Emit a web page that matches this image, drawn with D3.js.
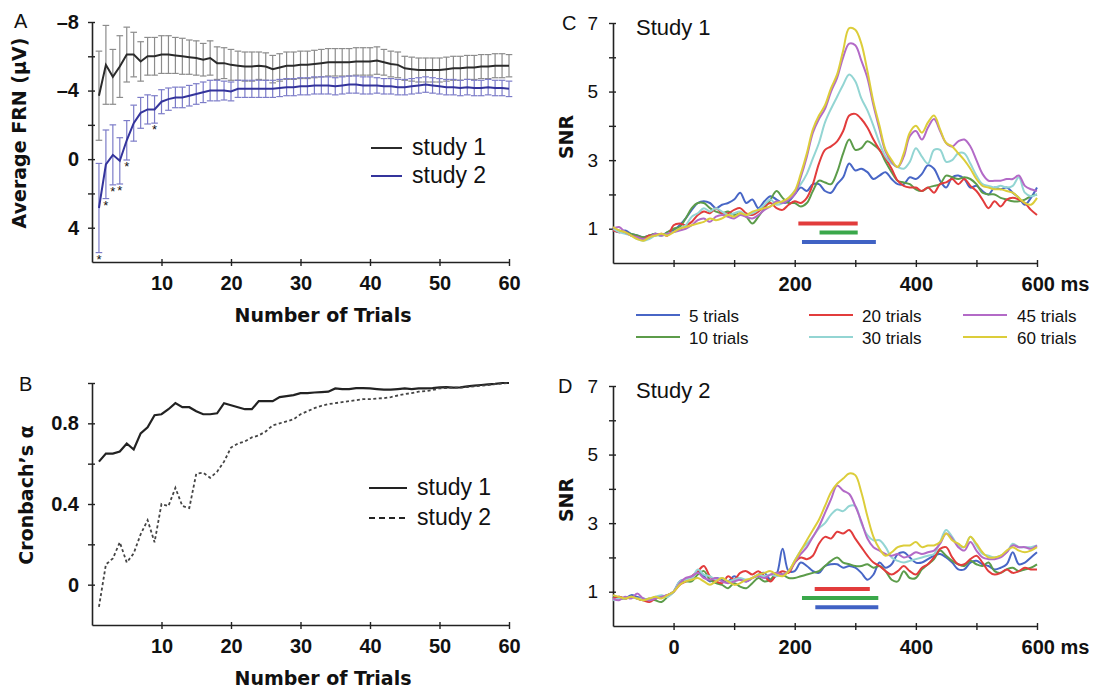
<!DOCTYPE html>
<html>
<head>
<meta charset="utf-8">
<script src="https://cdn.jsdelivr.net/npm/d3@7"></script>
<style>
  body { margin: 0; background: #fff; }
  svg text { font-family: "Liberation Sans", Arial, sans-serif; fill: #111; }
  .title { font-family: "DejaVu Sans", Verdana, sans-serif; font-weight: bold; font-size: 19px; }
  .panel { font-size: 20px; }
</style>
</head>
<body>
<svg id="fig" width="1101" height="691"></svg>
<script>

/****************************** Data **********************************/

var trials = d3.range(1, 61);

// panel A : average FRN (uV) per number of trials, with error bars
var frnStudy1 = [-3.7, -5.5, -4.8, -5.4, -6.1, -6.1, -5.7, -6.0, -6.0, -6.1,
  -6.1, -6.05, -6.0, -5.95, -5.9, -5.8, -5.9, -5.6, -5.6, -5.5,
  -5.45, -5.4, -5.4, -5.45, -5.4, -5.25, -5.35, -5.45, -5.45, -5.5,
  -5.5, -5.55, -5.6, -5.65, -5.65, -5.65, -5.65, -5.7, -5.7, -5.7,
  -5.75, -5.65, -5.55, -5.5, -5.3, -5.25, -5.2, -5.2, -5.2, -5.2,
  -5.25, -5.3, -5.3, -5.35, -5.35, -5.4, -5.4, -5.45, -5.45, -5.45];
var frnErr1 = [2.6, 2.3, 1.6, 1.8, 1.6, 1.3, 1.15, 1.1, 1.1, 1.1,
  1.1, 1.05, 1.05, 1.0, 1.0, 0.95, 1.0, 0.95, 0.9, 0.9,
  0.85, 0.85, 0.85, 0.8, 0.8, 0.8, 0.8, 0.8, 0.8, 0.8,
  0.8, 0.8, 0.8, 0.8, 0.8, 0.8, 0.8, 0.8, 0.8, 0.8,
  0.8, 0.75, 0.75, 0.75, 0.7, 0.7, 0.7, 0.7, 0.7, 0.7,
  0.7, 0.7, 0.7, 0.7, 0.7, 0.7, 0.7, 0.7, 0.7, 0.65];
var frnStudy2 = [2.85, 0.3, -0.25, 0.1, -1.1, -2.1, -2.7, -2.9, -2.9, -3.35,
  -3.5, -3.6, -3.6, -3.7, -3.8, -3.9, -4.0, -4.0, -4.0, -3.95,
  -4.1, -4.1, -4.1, -4.1, -4.1, -4.1, -4.15, -4.2, -4.2, -4.25,
  -4.25, -4.3, -4.3, -4.3, -4.25, -4.3, -4.35, -4.35, -4.3, -4.3,
  -4.3, -4.25, -4.25, -4.2, -4.2, -4.25, -4.3, -4.35, -4.3, -4.25,
  -4.2, -4.2, -4.15, -4.2, -4.15, -4.15, -4.2, -4.15, -4.15, -4.1];
var frnErr2 = [2.6, 2.0, 1.75, 1.35, 1.15, 1.05, 0.9, 0.85, 0.8, 0.7,
  0.65, 0.6, 0.6, 0.6, 0.6, 0.6, 0.6, 0.6, 0.55, 0.55,
  0.5, 0.5, 0.5, 0.5, 0.5, 0.5, 0.5, 0.5, 0.5, 0.5,
  0.5, 0.5, 0.5, 0.5, 0.5, 0.5, 0.5, 0.5, 0.5, 0.5,
  0.45, 0.45, 0.45, 0.45, 0.45, 0.45, 0.45, 0.45, 0.45, 0.45,
  0.45, 0.45, 0.45, 0.45, 0.45, 0.45, 0.45, 0.45, 0.45, 0.45];
var sigTrials = [1, 2, 3, 4, 5, 9];

// panel B : Cronbach's alpha
var alphaStudy1 = [0.61, 0.65, 0.65, 0.66, 0.70, 0.67, 0.75, 0.78, 0.84, 0.845,
  0.87, 0.90, 0.88, 0.88, 0.86, 0.845, 0.845, 0.85, 0.90, 0.89,
  0.88, 0.87, 0.87, 0.91, 0.91, 0.91, 0.93, 0.935, 0.94, 0.95,
  0.95, 0.953, 0.955, 0.957, 0.973, 0.97, 0.97, 0.975, 0.975, 0.973,
  0.97, 0.967, 0.967, 0.97, 0.973, 0.97, 0.973, 0.973, 0.975, 0.978,
  0.98, 0.977, 0.978, 0.983, 0.987, 0.99, 0.993, 0.996, 1.0, 1.0];
var alphaStudy2 = [-0.11, 0.10, 0.13, 0.21, 0.11, 0.155, 0.25, 0.32, 0.21, 0.40,
  0.39, 0.48, 0.39, 0.38, 0.55, 0.555, 0.53, 0.56, 0.61, 0.68,
  0.70, 0.71, 0.73, 0.74, 0.76, 0.79, 0.80, 0.81, 0.82, 0.845,
  0.86, 0.875, 0.887, 0.895, 0.90, 0.905, 0.91, 0.915, 0.92, 0.92,
  0.923, 0.925, 0.93, 0.938, 0.945, 0.95, 0.957, 0.96, 0.965, 0.973,
  0.975, 0.977, 0.977, 0.98, 0.983, 0.986, 0.99, 0.994, 0.997, 1.0];

// panels C/D : SNR, -100..600 ms every 10 ms
var times = d3.range(-100, 601, 10);

var s1Trials5 = [0.95, 0.9, 0.95, 0.85, 0.8, 0.75, 0.8, 0.85, 0.8, 0.9,
  0.95, 1.1, 1.3, 1.55, 1.75, 1.8, 1.75, 1.6, 1.7, 1.75, 1.85, 2.05, 1.75, 1.85, 1.6, 1.8, 1.95, 1.85, 1.75, 1.8,
  2.0, 2.2, 2.1, 2.3, 2.3, 2.1, 2.05, 2.3, 2.5, 2.9,
  2.7, 2.75, 2.65, 2.45, 2.55, 2.65, 2.45, 2.3, 2.3, 2.5,
  2.45, 2.6, 2.85, 2.75, 2.4, 2.2, 2.5, 2.55, 2.45, 2.2,
  2.25, 2.1, 2.0, 2.2, 2.15, 2.2, 2.05, 1.9, 1.7, 1.9, 2.2];
var s1Trials10 = [1.0, 0.95, 0.9, 0.85, 0.8, 0.75, 0.8, 0.85, 0.8, 0.9,
  1.0, 1.05, 1.3, 1.6, 1.75, 1.75, 1.6, 1.5, 1.45, 1.5, 1.4, 1.45, 1.35, 1.15, 1.35, 1.6, 1.85, 2.1, 1.9, 1.75,
  1.75, 1.65, 1.75, 2.1, 2.4, 2.35, 2.3, 2.65, 3.2, 3.6,
  3.3, 3.35, 3.55, 3.45, 3.3, 2.95, 2.65, 2.4, 2.35, 2.3,
  2.15, 2.1, 2.2, 2.25, 2.3, 2.55, 2.5, 2.45, 2.5, 2.45,
  2.3, 2.05, 2.0, 2.0, 1.9, 1.85, 1.8, 1.8, 1.85, 1.95, 2.0];
var s1Trials20 = [0.95, 0.9, 0.9, 0.8, 0.75, 0.7, 0.8, 0.8, 0.85, 0.8,
  1.1, 1.15, 1.1, 1.2, 1.4, 1.5, 1.45, 1.6, 1.45, 1.45, 1.55, 1.6, 1.45, 1.4, 1.5, 1.65, 1.75, 1.6, 1.55, 1.7,
  1.8, 1.75, 1.9, 2.3, 2.9, 3.3, 3.4, 3.55, 3.85, 4.3,
  4.35, 4.2, 3.95, 3.6, 3.3, 3.05, 2.75, 2.4, 2.25, 2.2,
  2.2, 2.1, 2.2, 2.05, 2.3, 2.35, 2.45, 2.3, 2.45, 2.25,
  2.1, 1.85, 1.6, 1.8, 1.65, 1.85, 1.9, 1.85, 1.75, 1.55, 1.4];
var s1Trials30 = [1.0, 0.9, 0.85, 0.8, 0.7, 0.65, 0.7, 0.8, 0.8, 0.85,
  0.9, 1.0, 1.1, 1.35, 1.45, 1.6, 1.5, 1.6, 1.5, 1.4, 1.45, 1.5, 1.4, 1.45, 1.55, 1.7, 1.85, 1.7, 1.75, 1.9,
  2.1, 2.3, 2.6, 3.05, 3.5, 4.1, 4.5, 4.85, 5.2, 5.5,
  5.3, 4.8, 4.45, 4.0, 3.5, 3.1, 2.9, 2.8, 2.75, 2.95,
  3.35, 3.1, 2.9, 3.3, 3.3, 2.95, 3.0, 3.2, 3.2, 2.9,
  2.55, 2.3, 2.25, 2.2, 2.25, 2.2, 2.25, 2.5, 2.05, 1.95, 2.0];
var s1Trials45 = [1.0, 1.05, 0.9, 0.8, 0.75, 0.7, 0.75, 0.85, 0.8, 0.85,
  0.9, 0.95, 1.0, 1.1, 1.25, 1.3, 1.2, 1.35, 1.4, 1.35, 1.3, 1.4, 1.35, 1.3, 1.4, 1.55, 1.65, 1.8, 1.75, 1.85,
  2.0, 2.5, 3.1, 3.8, 4.2, 4.5, 5.0, 5.4, 6.0, 6.4,
  6.35, 5.9, 5.4, 4.6, 3.9, 3.25, 2.95, 2.8, 3.1, 3.7,
  3.85, 3.6, 3.95, 4.2, 3.85, 3.5, 3.4, 3.55, 3.6, 3.4,
  3.0, 2.6, 2.4, 2.4, 2.4, 2.45, 2.45, 2.55, 2.25, 2.15, 2.1];
var s1Trials60 = [1.05, 0.95, 0.9, 0.8, 0.7, 0.65, 0.75, 0.8, 0.85, 0.8,
  0.9, 1.0, 1.05, 1.1, 1.15, 1.2, 1.3, 1.25, 1.3, 1.4, 1.35, 1.45, 1.4, 1.5, 1.55, 1.6, 1.65, 1.75, 1.8, 1.9,
  2.1, 2.6, 3.2, 3.9, 4.3, 4.6, 5.1, 5.5, 6.2, 6.85,
  6.8, 6.4, 5.6, 4.7, 4.0, 3.3, 3.0, 2.8, 3.2, 3.8,
  4.0, 3.8, 4.1, 4.3, 3.9, 3.5, 3.4, 3.2, 3.0, 2.75,
  2.45, 2.25, 2.2, 2.15, 2.15, 2.1, 2.05, 1.9, 1.75, 1.7, 1.9];

var s2Trials5 = [0.8, 0.85, 0.8, 0.9, 0.85, 0.8, 0.75, 0.8, 0.85, 0.9,
  1.0, 1.3, 1.35, 1.4, 1.6, 1.45, 1.3, 1.4, 1.35, 1.3, 1.45, 1.35, 1.3, 1.4, 1.5, 1.55, 1.35, 1.5, 2.25, 1.6,
  1.6, 1.85, 1.75, 1.6, 1.55, 1.75, 1.8, 1.8, 1.7, 1.75,
  1.7, 1.55, 1.35, 1.5, 1.85, 1.7, 1.8, 2.1, 2.15, 2.0,
  1.85, 1.85, 1.95, 2.05, 2.1, 2.0, 1.85, 1.65, 1.65, 1.85,
  1.9, 1.8, 1.75, 1.65, 1.7, 1.8, 2.15, 1.8, 1.85, 2.0, 2.15];
var s2Trials10 = [0.85, 0.8, 0.8, 0.85, 0.8, 0.75, 0.8, 0.75, 0.7, 0.85,
  1.0, 1.25, 1.3, 1.3, 1.5, 1.6, 1.35, 1.25, 1.2, 1.1, 1.25, 1.15, 1.1, 1.25, 1.4, 1.3, 1.35, 1.55, 1.5, 1.4,
  1.4, 1.45, 1.5, 1.55, 1.6, 1.75, 1.9, 2.0, 1.85, 1.8,
  1.75, 1.75, 1.8, 1.7, 1.75, 1.6, 1.35, 1.3, 1.6, 1.4,
  1.4, 1.65, 1.8, 1.95, 2.2, 2.05, 1.9, 1.8, 1.75, 1.9,
  1.8, 1.75, 1.85, 1.6, 1.55, 1.65, 1.7, 1.6, 1.65, 1.7, 1.8];
var s2Trials20 = [0.8, 0.85, 0.8, 0.85, 0.8, 0.75, 0.7, 0.8, 0.85, 0.9,
  1.0, 1.2, 1.3, 1.45, 1.6, 1.75, 1.45, 1.3, 1.25, 1.45, 1.35, 1.55, 1.6, 1.5, 1.6, 1.45, 1.3, 1.5, 1.6, 1.55,
  1.85, 2.0, 1.95, 2.05, 2.4, 2.6, 2.55, 2.75, 2.7, 2.8,
  2.55, 2.3, 2.05, 1.85, 1.75, 1.6, 1.5, 1.6, 1.75, 1.6,
  1.5, 1.7, 1.8, 2.0, 2.25, 2.3, 2.0, 1.8, 1.8, 1.95,
  2.05, 1.85, 1.6, 1.5, 1.55, 1.65, 1.55, 1.6, 1.7, 1.65, 1.65];
var s2Trials30 = [0.75, 0.8, 0.8, 0.85, 0.8, 0.8, 0.75, 0.85, 0.9, 0.85,
  1.0, 1.3, 1.35, 1.4, 1.65, 1.5, 1.45, 1.35, 1.4, 1.3, 1.35, 1.4, 1.35, 1.4, 1.5, 1.45, 1.5, 1.45, 1.5, 1.6,
  1.9, 2.2, 2.4, 2.6, 2.85, 3.0, 3.25, 3.4, 3.35, 3.5,
  3.5, 3.0, 2.65, 2.5, 2.5, 2.3, 2.0, 1.9, 1.85, 1.9,
  1.95, 2.0, 2.05, 2.1, 2.45, 2.8, 2.6, 2.35, 2.3, 2.6,
  2.35, 2.1, 2.05, 2.0, 2.05, 2.15, 2.4, 2.3, 2.3, 2.3, 2.35];
var s2Trials45 = [0.8, 0.75, 0.85, 0.8, 0.95, 0.8, 0.75, 0.8, 0.85, 0.9,
  1.0, 1.25, 1.4, 1.45, 1.55, 1.4, 1.35, 1.4, 1.3, 1.25, 1.3, 1.35, 1.3, 1.4, 1.45, 1.4, 1.5, 1.55, 1.5, 1.6,
  1.85, 2.1, 2.3, 2.6, 2.9, 3.3, 3.7, 4.1, 3.95, 3.85,
  3.5, 3.05, 2.55, 2.3, 2.2, 2.1, 2.05, 2.1, 2.0, 2.05,
  2.15, 2.1, 2.15, 2.2, 2.4, 2.7, 2.55, 2.3, 2.2, 2.45,
  2.2, 2.0, 1.95, 1.95, 2.0, 2.15, 2.35, 2.3, 2.3, 2.25, 2.35];
var s2Trials60 = [0.9, 0.85, 0.8, 0.85, 0.8, 0.75, 0.8, 0.85, 0.8, 0.9,
  1.0, 1.2, 1.3, 1.35, 1.4, 1.3, 1.2, 1.3, 1.4, 1.3, 1.2, 1.25, 1.35, 1.4, 1.5, 1.55, 1.6, 1.5, 1.45, 1.6,
  1.9, 2.2, 2.5, 2.8, 3.1, 3.5, 3.9, 4.15, 4.3, 4.45,
  4.4, 3.9, 3.2, 2.6, 2.25, 2.05, 2.15, 2.3, 2.35, 2.35,
  2.45, 2.3, 2.35, 2.35, 2.45, 2.7, 2.5, 2.4, 2.3, 2.6,
  2.4, 2.15, 2.0, 2.0, 2.05, 2.2, 2.3, 2.2, 2.15, 2.2, 2.3];

var trialLabels = ["5 trials", "10 trials", "20 trials", "30 trials", "45 trials", "60 trials"];
var snrColors = ["#4866c6", "#5c9c4a", "#e23c3c", "#93d5d3", "#b36ac7", "#dccd3a"];

// significant windows (ms) drawn under the curves: [start, end, level]
var sigStudy1 = [[206, 304, 1.15], [241, 304, 0.89], [212, 334, 0.61]];
var sigStudy2 = [[233, 324, 1.08], [212, 338, 0.82], [234, 338, 0.55]];
var sigColors = ["#e23c3c", "#3aa84a", "#4062c4"];

/****************************** End Data **********************************/

var svg = d3.select("#fig");
svg.append("rect").attr("width", 1101).attr("height", 691).attr("fill", "#fff");

function styleAxis(g, side, labelSize, bold) {
  g.select(".domain").attr("stroke", "#222").attr("stroke-width", 1.6);
  g.selectAll(".tick line").attr("stroke", "#222").attr("stroke-width", 1.4);
  if (side == "left") g.selectAll(".tick line").attr("x1", 3);
  else g.selectAll(".tick line").attr("y1", -3);
  g.selectAll(".tick text")
    .attr("font-family", "Liberation Sans, Arial, sans-serif")
    .attr("font-size", labelSize)
    .attr("font-weight", bold ? "bold" : "normal")
    .attr("fill", "#111");
}

/****************************** Panel A **********************************/

var xA = d3.scaleLinear().domain([0, 60]).range([92, 509]);
var yA = d3.scaleLinear().domain([-8, 6]).range([22, 262]);

var gA = svg.append("g");

gA.append("g")
  .attr("transform", "translate(92,0)")
  .call(d3.axisLeft(yA).tickValues(d3.range(-8, 6, 2)).tickSizeInner(4).tickSizeOuter(0).tickPadding(9)
    .tickFormat(function(d){ return d % 4 == 0 ? (d < 0 ? "\u2013" + (-d) : d) : ""; }))
  .call(styleAxis, "left", 20, true);

gA.append("g")
  .attr("transform", "translate(0,262)")
  .call(d3.axisBottom(xA).tickValues(d3.range(10, 61, 10)).tickSizeInner(4).tickSizeOuter(0).tickPadding(10))
  .call(styleAxis, "bottom", 20, true);

function errorBars(g, means, errs, color) {
  var bars = g.append("g").attr("stroke", color).attr("stroke-width", 1.2).attr("fill", "none");
  trials.forEach(function(t, i){
    var x = xA(t), y0 = yA(means[i] - errs[i]), y1 = yA(means[i] + errs[i]);
    bars.append("line").attr("x1", x).attr("x2", x).attr("y1", y0).attr("y2", y1);
    bars.append("line").attr("x1", x - 3.3).attr("x2", x + 3.3).attr("y1", y0).attr("y2", y0);
    bars.append("line").attr("x1", x - 3.3).attr("x2", x + 3.3).attr("y1", y1).attr("y2", y1);
  });
}
errorBars(gA, frnStudy1, frnErr1, "#8c8c8c");
errorBars(gA, frnStudy2, frnErr2, "#7c7cc8");

var lineA = d3.line().x(function(d){ return xA(d[0]); }).y(function(d){ return yA(d[1]); });
gA.append("path").datum(d3.zip(trials, frnStudy1)).attr("d", lineA)
  .attr("fill", "none").attr("stroke", "#2b2b2b").attr("stroke-width", 2);
gA.append("path").datum(d3.zip(trials, frnStudy2)).attr("d", lineA)
  .attr("fill", "none").attr("stroke", "#34349c").attr("stroke-width", 2);

gA.selectAll(".star").data(sigTrials).enter().append("text")
  .attr("x", function(t){ return xA(t); })
  .attr("y", function(t){ return yA(frnStudy2[t-1] + frnErr2[t-1]) + 11; })
  .attr("text-anchor", "middle").attr("font-size", 13).attr("fill", "#4646b0")
  .text("*");

gA.append("text").attr("class", "panel").attr("x", 14).attr("y", 28).text("A");
gA.append("text").attr("class", "title").attr("x", 323).attr("y", 322).attr("text-anchor", "middle").text("Number of Trials");
gA.append("text").attr("class", "title").attr("text-anchor", "middle").attr("font-size", 20)
  .attr("transform", "translate(26,133) rotate(-90)").text("Average FRN (\u03bcV)");

var legA = [["study 1", "#2b2b2b"], ["study 2", "#34349c"]];
legA.forEach(function(d, i){
  gA.append("line").attr("x1", 371).attr("x2", 402).attr("y1", 148 + i*28).attr("y2", 148 + i*28)
    .attr("stroke", d[1]).attr("stroke-width", 2);
  gA.append("text").attr("x", 412).attr("y", 155 + i*28).attr("font-size", 23).text(d[0]);
});

/****************************** Panel B **********************************/

var yB = d3.scaleLinear().domain([-0.2, 1.0]).range([625, 383]);
var gB = svg.append("g");

gB.append("g")
  .attr("transform", "translate(92,0)")
  .call(d3.axisLeft(yB).tickValues([0, 0.2, 0.4, 0.6, 0.8, 1.0]).tickSizeInner(4).tickSizeOuter(0).tickPadding(9)
    .tickFormat(function(d){ return d == 0 ? "0" : (Math.abs(d - 0.4) < 1e-6 || Math.abs(d - 0.8) < 1e-6 ? d3.format(".1f")(d) : ""); }))
  .call(styleAxis, "left", 20, true);

gB.append("g")
  .attr("transform", "translate(0,625)")
  .call(d3.axisBottom(xA).tickValues(d3.range(10, 61, 10)).tickSizeInner(4).tickSizeOuter(0).tickPadding(10))
  .call(styleAxis, "bottom", 20, true);

var lineB = d3.line().x(function(d){ return xA(d[0]); }).y(function(d){ return yB(d[1]); });
gB.append("path").datum(d3.zip(trials, alphaStudy1)).attr("d", lineB)
  .attr("fill", "none").attr("stroke", "#222").attr("stroke-width", 2.2);
gB.append("path").datum(d3.zip(trials, alphaStudy2)).attr("d", lineB)
  .attr("fill", "none").attr("stroke", "#444").attr("stroke-width", 1.8).attr("stroke-dasharray", "3,2.5");

gB.append("text").attr("class", "panel").attr("x", 19).attr("y", 391).text("B");
gB.append("text").attr("class", "title").attr("x", 323).attr("y", 685).attr("text-anchor", "middle").text("Number of Trials");
gB.append("text").attr("class", "title").attr("text-anchor", "middle").attr("font-size", 21)
  .attr("transform", "translate(33,495) rotate(-90)").text("Cronbach\u2019s \u03b1");

[["study 1", null], ["study 2", "6,4"]].forEach(function(d, i){
  gB.append("line").attr("x1", 369).attr("x2", 407).attr("y1", 488 + i*30).attr("y2", 488 + i*30)
    .attr("stroke", "#222").attr("stroke-width", 2).attr("stroke-dasharray", d[1]);
  gB.append("text").attr("x", 417).attr("y", 495 + i*30).attr("font-size", 23).text(d[0]);
});

/****************************** Panels C & D **********************************/

var xC = d3.scaleLinear().domain([-100, 600]).range([613, 1037]);

function snrPanel(top, series, sig, letter, letterX, title, showZero) {
  var y = d3.scaleLinear().domain([0, 7]).range([top + 240, top]);
  var g = svg.append("g");

  g.append("g")
    .attr("transform", "translate(613,0)")
    .call(d3.axisLeft(y).tickValues(d3.range(1, 8)).tickSizeInner(4).tickSizeOuter(0).tickPadding(11)
      .tickFormat(function(d){ return d % 2 == 1 ? d : ""; }))
    .call(styleAxis, "left", 19, false);

  var xg = g.append("g")
    .attr("transform", "translate(0," + (top + 240) + ")")
    .call(d3.axisBottom(xC).tickValues(d3.range(0, 601, 100)).tickSizeInner(4).tickSizeOuter(0).tickPadding(10)
      .tickFormat(function(d){
        if (d == 600) return "600 ms";
        if (d == 200 || d == 400 || (d == 0 && showZero)) return d;
        return "";
      }))
    .call(styleAxis, "bottom", 20, true);
  xg.selectAll(".tick text").filter(function(d){ return d == 600; }).attr("dx", 18);

  var line = d3.line().curve(d3.curveCatmullRom)
    .x(function(d){ return xC(d[0]); }).y(function(d){ return y(d[1]); });
  series.forEach(function(s, i){
    g.append("path").datum(d3.zip(times, s)).attr("d", line)
      .attr("fill", "none").attr("stroke", snrColors[i]).attr("stroke-width", 2)
      .attr("stroke-linejoin", "round");
  });

  sig.forEach(function(b, i){
    g.append("line").attr("x1", xC(b[0])).attr("x2", xC(b[1])).attr("y1", y(b[2])).attr("y2", y(b[2]))
      .attr("stroke", sigColors[i]).attr("stroke-width", 4);
  });

  g.append("text").attr("class", "panel").attr("x", letterX).attr("y", top + 7).text(letter);
  g.append("text").attr("x", 636).attr("y", top + 12).attr("font-size", 22).text(title);
  g.append("text").attr("class", "title").attr("text-anchor", "middle")
    .attr("transform", "translate(573," + (top + 114) + ") rotate(-90)").text("SNR");
}

snrPanel(23, [s1Trials5, s1Trials10, s1Trials20, s1Trials30, s1Trials45, s1Trials60], sigStudy1, "C", 562, "Study 1", false);
snrPanel(386, [s2Trials5, s2Trials10, s2Trials20, s2Trials30, s2Trials45, s2Trials60], sigStudy2, "D", 558, "Study 2", true);

// legend between C and D
var legC = svg.append("g");
trialLabels.forEach(function(lbl, i){
  var col = Math.floor(i / 2), row = i % 2;
  var lx = [636, 809, 963][col], tx = [689, 862, 1017][col];
  var ly = 315 + row * 22;
  legC.append("line").attr("x1", lx).attr("x2", lx + 44).attr("y1", ly).attr("y2", ly)
    .attr("stroke", snrColors[i]).attr("stroke-width", 2);
  legC.append("text").attr("x", tx).attr("y", ly + 7).attr("font-size", 17).text(lbl);
});

</script>
</body>
</html>
